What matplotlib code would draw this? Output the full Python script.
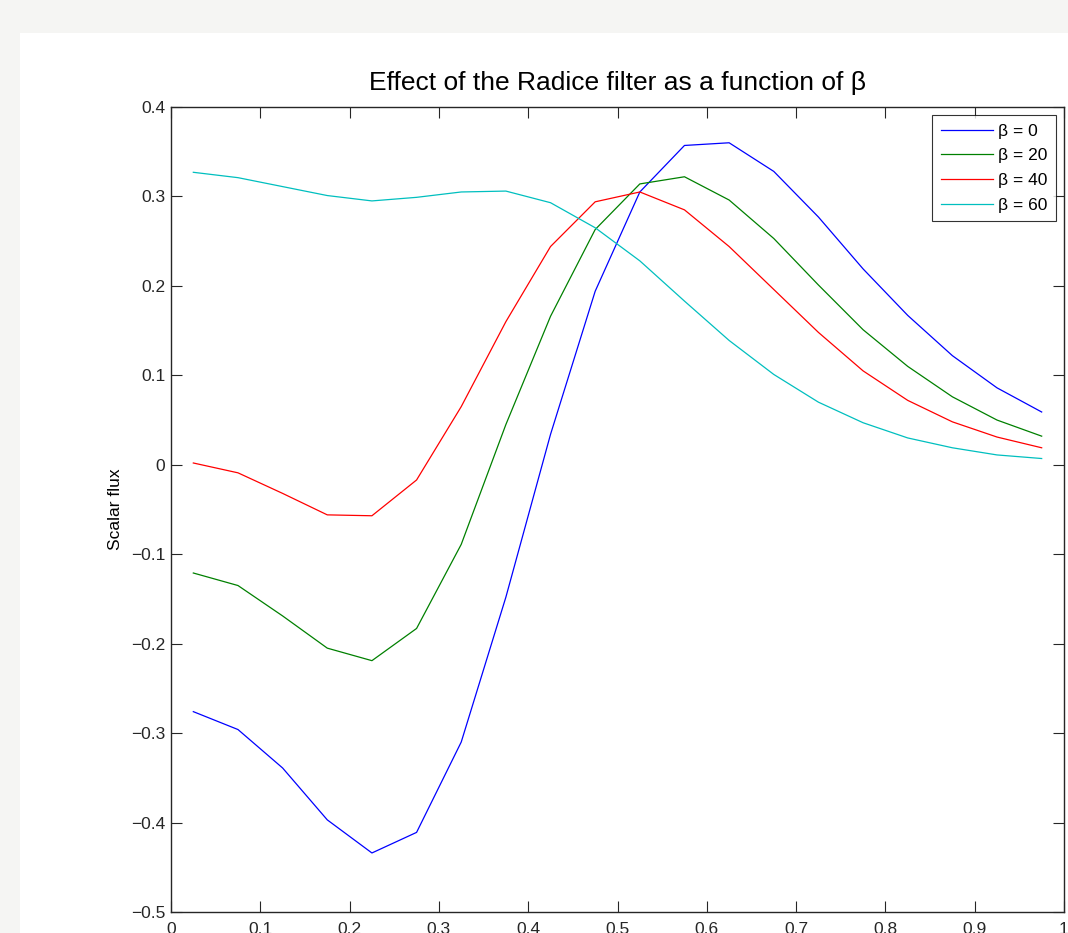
import numpy as np
import matplotlib
matplotlib.use('Agg')
import matplotlib.pyplot as plt
from matplotlib.patches import Rectangle
from matplotlib.ticker import FuncFormatter

x = [0.025, 0.075, 0.125, 0.175, 0.225, 0.275, 0.325, 0.375, 0.425, 0.475,
     0.525, 0.575, 0.625, 0.675, 0.725, 0.775, 0.825, 0.875, 0.925, 0.975]

flux_b0 = [-0.276, -0.296, -0.339, -0.397, -0.434, -0.411, -0.310, -0.148, 0.034, 0.194,
           0.305, 0.357, 0.360, 0.328, 0.277, 0.219, 0.167, 0.122, 0.086, 0.059]
flux_b20 = [-0.121, -0.135, -0.169, -0.205, -0.219, -0.183, -0.089, 0.045, 0.166, 0.263,
            0.314, 0.322, 0.296, 0.253, 0.201, 0.151, 0.110, 0.076, 0.050, 0.032]
flux_b40 = [0.002, -0.009, -0.032, -0.056, -0.057, -0.017, 0.065, 0.160, 0.244, 0.294,
            0.305, 0.285, 0.244, 0.196, 0.148, 0.105, 0.072, 0.048, 0.031, 0.019]
flux_b60 = [0.327, 0.321, 0.311, 0.301, 0.295, 0.299, 0.305, 0.306, 0.293, 0.265,
            0.228, 0.183, 0.139, 0.101, 0.070, 0.047, 0.030, 0.019, 0.011, 0.007]

labels = ['\u03b2 = 0', '\u03b2 = 20', '\u03b2 = 40', '\u03b2 = 60']
colors = ['#0000ff', '#008000', '#ff0000', '#00bfbf']

plt.rcParams['font.family'] = ['Liberation Sans', 'DejaVu Sans']

W, H = 1068, 933
fig = plt.figure(figsize=(W / 100, H / 100), dpi=100, facecolor='#f5f5f3')
# white figure panel (window is cropped on the right/bottom)
fig.patches.append(Rectangle((20 / W, 0), 1 - 20 / W, 1 - 33 / H,
                             transform=fig.transFigure, facecolor='white',
                             edgecolor='none', zorder=-10))

ax = fig.add_axes([171 / W, 1 - 912 / H, (1064 - 171) / W, (912 - 107) / H])
ax.set_zorder(1)

for ys, lab, c in zip([flux_b0, flux_b20, flux_b40, flux_b60], labels, colors):
    ax.plot(x, ys, color=c, lw=0.9, label=lab)


def matlab_fmt(v, pos):
    v = round(v, 2) + 0.0
    if v == 0:
        return '0'
    return ('%g' % v).replace('-', '\u2212')


ax.set_xlim(0, 1)
ax.set_ylim(-0.5, 0.4)
ax.set_xticks(np.arange(0, 1.01, 0.1))
ax.set_yticks(np.arange(-0.5, 0.41, 0.1))
ax.xaxis.set_major_formatter(FuncFormatter(matlab_fmt))
ax.yaxis.set_major_formatter(FuncFormatter(matlab_fmt))
ax.tick_params(direction='in', length=8, width=0.8, top=True, right=True,
               labelsize=12.5, colors='#262626')
ax.tick_params(axis='x', pad=7)
ax.tick_params(axis='y', pad=4)
for s in ax.spines.values():
    s.set_linewidth(1.0)
    s.set_color('#262626')

ax.set_title('Effect of the Radice filter as a function of \u03b2', fontsize=19, pad=12)
ax.set_ylabel('Scalar flux', fontsize=12.5, labelpad=6)

leg = ax.legend(loc='upper right', fontsize=12.5, frameon=True, fancybox=False,
                edgecolor='black', handlelength=3.0, handletextpad=0.3,
                borderpad=0.5, labelspacing=0.55, borderaxespad=0.45)
leg.get_frame().set_linewidth(0.8)

fig.savefig('out.png', dpi=100, facecolor=fig.get_facecolor())
